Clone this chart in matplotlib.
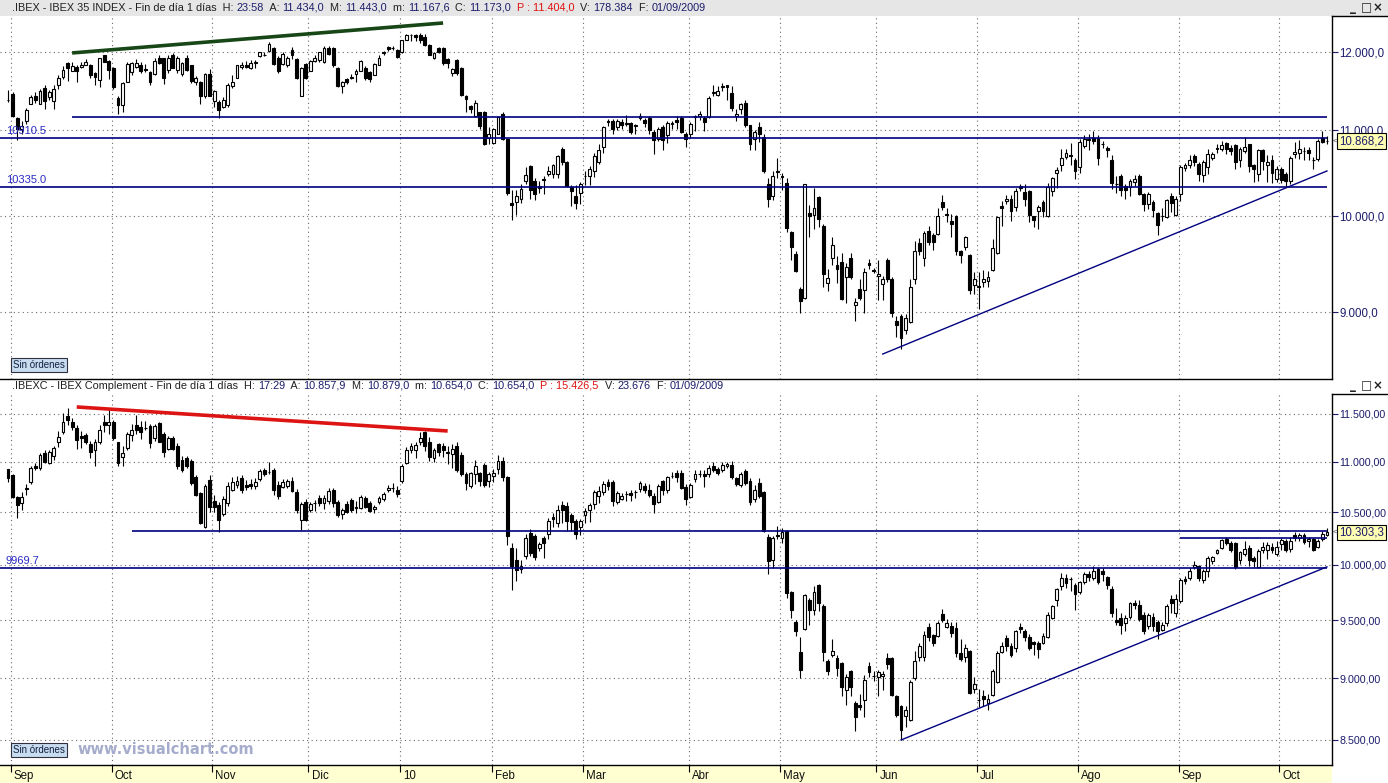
import numpy as np
import matplotlib.pyplot as plt
from matplotlib.patches import Rectangle
from matplotlib.lines import Line2D
from matplotlib.font_manager import FontProperties
from matplotlib.ticker import FixedLocator, FixedFormatter, NullLocator
import matplotlib.transforms as mtrans

plt.rcParams['font.family'] = ['Liberation Sans', 'DejaVu Sans']

# IBEX 35, velas diarias (Sep 2008 - Oct 2009)
ibex_open = [
    11380, 11450, 11150, 11010, 11120, 11330, 11430, 11330, 11530, 11410,
    11360, 11560, 11670, 11850, 11750, 11800, 11800, 11830, 11820, 11720,
    11630, 11950, 11880, 11790, 11400, 11310, 11610, 11730, 11800, 11830,
    11770, 11730, 11710, 11920, 11910, 11760, 11960, 11760, 11710, 11920,
    11820, 11610, 11600, 11420, 11710, 11360, 11350, 11290, 11310, 11550,
    11660, 11800, 11830, 11790, 11850, 11940, 11960, 12010, 12050, 11920,
    11840, 11830, 12020, 11900, 11430, 11840, 11750, 11880, 11890, 11860,
    12050, 12050, 11790, 11550, 11640, 11660, 11710, 11750, 11790, 11730,
    11700, 11830, 11980, 12060, 12050, 12020, 11990, 12160, 12220, 12220,
    12220, 12190, 12090, 11920, 12050, 12050, 11900, 11720, 11890, 11790,
    11420, 11300, 11170, 11220, 11220, 10910, 10850, 10960, 11200, 10900,
    10150, 10160, 10200, 10400, 10570, 10400, 10340, 10420, 10480, 10480,
    10480, 10770, 10620, 10330, 10230, 10260, 10460, 10460, 10520, 10620,
    10800, 11120, 11120, 11040, 11100, 11090, 11090, 11050, 11150, 11130,
    11150, 10980, 10890, 11040, 10940, 11090, 11130, 11150, 10950, 10950,
    11160, 11170, 11150, 11160, 11460, 11440, 11540, 11560, 11460, 11170,
    11260, 11340, 11060, 10890, 11040, 10920, 10370, 10230, 10510, 10460,
    10380, 9830, 9590, 9230, 9140, 10040, 10020, 10220, 9900, 9290,
    9550, 9480, 9510, 9350, 9550, 9070, 9230, 9220, 9500, 9420,
    9360, 9280, 9530, 9330, 8910, 8960, 8820, 8900, 9330, 9710,
    9550, 9840, 9800, 9810, 10160, 10030, 9950, 10000, 9630, 9670,
    9580, 9270, 9260, 9300, 9310, 9420, 9600, 10120, 10170, 10190,
    10100, 10340, 10270, 10290, 10000, 10060, 10160, 10010, 10280, 10490,
    10580, 10680, 10700, 10650, 10560, 10810, 10900, 10910, 10910, 10830,
    10790, 10650, 10370, 10460, 10340, 10330, 10390, 10460, 10250, 10140,
    10160, 10040, 10010, 9990, 10230, 10020, 10250, 10550, 10590, 10690,
    10600, 10470, 10560, 10670, 10790, 10770, 10850, 10790, 10820, 10650,
    10750, 10830, 10580, 10480, 10760, 10590, 10640, 10420, 10540, 10480,
    10400, 10710, 10730, 10750, 10760, 10650, 10660, 10910, 10870]
ibex_high = [
    11500, 11470, 11160, 11110, 11270, 11440, 11470, 11510, 11560, 11500,
    11560, 11690, 11810, 11860, 11860, 11820, 11870, 11900, 11840, 11730,
    11920, 11960, 11890, 11800, 11430, 11600, 11860, 11870, 11900, 11860,
    11840, 11740, 11910, 11960, 11920, 11950, 11980, 11940, 11870, 11960,
    11830, 11680, 11620, 11720, 11770, 11500, 11370, 11410, 11590, 11700,
    11830, 11870, 11880, 11890, 11890, 12000, 11990, 12130, 12060, 11940,
    11990, 11940, 12060, 11910, 11800, 11850, 11890, 11950, 12000, 12070,
    12080, 12060, 11800, 11620, 11660, 11710, 11770, 11890, 11810, 11740,
    11850, 11950, 12010, 12080, 12070, 12030, 12160, 12240, 12240, 12240,
    12250, 12240, 12100, 12000, 12060, 12060, 11910, 11790, 11900, 11800,
    11440, 11310, 11370, 11230, 11240, 11040, 11030, 11180, 11230, 10910,
    10300, 10300, 10360, 10560, 10580, 10440, 10400, 10460, 10570, 10600,
    10700, 10800, 10630, 10350, 10350, 10390, 10520, 10570, 10730, 10830,
    11050, 11140, 11140, 11140, 11140, 11190, 11100, 11080, 11210, 11150,
    11170, 11000, 11040, 11060, 11110, 11110, 11170, 11170, 10980, 11100,
    11190, 11240, 11170, 11420, 11570, 11550, 11590, 11570, 11550, 11260,
    11340, 11370, 11070, 11000, 11100, 10950, 10430, 10520, 10670, 10490,
    10440, 9840, 9630, 9250, 10370, 10130, 10320, 10230, 9920, 9440,
    9770, 9570, 9600, 9500, 9600, 9140, 9330, 9450, 9540, 9450,
    9530, 9360, 9550, 9350, 8960, 8980, 8980, 9330, 9730, 9760,
    9840, 9900, 9820, 10090, 10240, 10090, 10030, 10020, 9640, 9790,
    9590, 9400, 9400, 9420, 9410, 9750, 10000, 10170, 10240, 10240,
    10320, 10370, 10360, 10300, 10010, 10130, 10180, 10380, 10450, 10560,
    10780, 10770, 10850, 10670, 10900, 10940, 10960, 10990, 10940, 10870,
    10810, 10700, 10460, 10480, 10360, 10420, 10470, 10480, 10260, 10270,
    10180, 10050, 10090, 10200, 10260, 10230, 10580, 10610, 10700, 10710,
    10620, 10650, 10780, 10740, 10830, 10870, 10860, 10820, 10840, 10800,
    10920, 10840, 10600, 10770, 10780, 10700, 10700, 10570, 10560, 10500,
    10690, 10860, 10880, 10800, 10800, 10680, 10900, 10990, 10930]
ibex_low = [
    11350, 11160, 10880, 10960, 11080, 11320, 11340, 11320, 11260, 11380,
    11260, 11510, 11640, 11620, 11740, 11600, 11790, 11820, 11650, 11560,
    11540, 11860, 11640, 11520, 11200, 11230, 11600, 11700, 11790, 11720,
    11730, 11570, 11700, 11840, 11580, 11720, 11780, 11720, 11680, 11750,
    11590, 11560, 11330, 11400, 11420, 11290, 11150, 11270, 11290, 11530,
    11650, 11770, 11780, 11770, 11780, 11930, 11940, 12000, 11830, 11720,
    11830, 11800, 11900, 11640, 11420, 11640, 11740, 11860, 11870, 11850,
    11960, 11800, 11540, 11460, 11580, 11640, 11600, 11740, 11630, 11600,
    11690, 11820, 11960, 12010, 12020, 11920, 11980, 12150, 12140, 12140,
    12120, 12080, 11950, 11900, 11980, 11830, 11790, 11680, 11700, 11430,
    11220, 11210, 11160, 11010, 10820, 10840, 10840, 10950, 10880, 10240,
    9960, 10020, 10150, 10370, 10190, 10180, 10260, 10250, 10460, 10430,
    10430, 10580, 10330, 10120, 10080, 10140, 10350, 10350, 10450, 10600,
    10730, 11050, 10950, 11000, 11010, 11050, 10960, 10950, 11130, 11040,
    10950, 10710, 10870, 10760, 10850, 11020, 11010, 10970, 10800, 10910,
    10990, 11130, 10990, 11150, 11420, 11420, 11490, 11380, 11240, 11110,
    11200, 11040, 10760, 10760, 10860, 10490, 10100, 10180, 10430, 10300,
    9830, 9530, 9400, 8990, 9130, 9780, 9860, 9880, 9250, 9210,
    9480, 9290, 9120, 9090, 9330, 8910, 9120, 8990, 9440, 9390,
    9120, 9120, 9300, 8950, 8750, 8640, 8780, 8890, 9280, 9580,
    9470, 9690, 9640, 9800, 10070, 9940, 9780, 9580, 9500, 9640,
    9180, 9180, 9030, 9250, 9250, 9410, 9590, 9900, 10140, 9950,
    10060, 10290, 10120, 9940, 9880, 9860, 9990, 9990, 10230, 10320,
    10510, 10660, 10580, 10420, 10490, 10790, 10760, 10830, 10580, 10790,
    10680, 10310, 10260, 10230, 10190, 10230, 10340, 10240, 10060, 10080,
    9990, 9800, 9950, 9980, 10050, 10010, 10170, 10520, 10550, 10570,
    10400, 10390, 10480, 10640, 10730, 10750, 10720, 10700, 10540, 10560,
    10730, 10500, 10390, 10400, 10530, 10390, 10380, 10390, 10380, 10330,
    10360, 10670, 10660, 10650, 10640, 10540, 10630, 10850, 10830]
ibex_close = [
    11370, 11170, 11010, 11050, 11250, 11410, 11370, 11490, 11360, 11470,
    11510, 11650, 11760, 11780, 11810, 11750, 11830, 11870, 11700, 11670,
    11910, 11870, 11760, 11540, 11310, 11590, 11840, 11850, 11850, 11750,
    11760, 11600, 11880, 11850, 11660, 11920, 11790, 11920, 11850, 11760,
    11620, 11650, 11430, 11710, 11430, 11490, 11250, 11380, 11570, 11610,
    11820, 11830, 11800, 11850, 11870, 11990, 11960, 12100, 11840, 11740,
    11970, 11920, 11960, 11650, 11790, 11650, 11880, 11920, 11990, 12050,
    11970, 11820, 11550, 11610, 11610, 11670, 11750, 11880, 11650, 11640,
    11840, 11920, 11990, 12030, 12050, 11930, 12150, 12220, 12220, 12200,
    12150, 12090, 11960, 11980, 11990, 11850, 11850, 11770, 11720, 11440,
    11390, 11260, 11340, 11050, 10830, 10960, 11010, 11160, 10890, 10260,
    10130, 10230, 10310, 10470, 10300, 10250, 10320, 10410, 10520, 10590,
    10690, 10620, 10340, 10290, 10150, 10360, 10460, 10540, 10690, 10760,
    11040, 11100, 11020, 11120, 11070, 11080, 10980, 11060, 11180, 11090,
    11000, 10880, 11010, 10880, 11090, 11080, 11100, 10980, 10890, 11080,
    11170, 11200, 11100, 11400, 11470, 11490, 11550, 11540, 11280, 11200,
    11320, 11070, 10830, 10980, 10950, 10510, 10190, 10460, 10500, 10450,
    9870, 9670, 9410, 9110, 10360, 10010, 10090, 9970, 9380, 9340,
    9690, 9440, 9130, 9460, 9350, 9100, 9140, 9400, 9480, 9410,
    9380, 9330, 9330, 8990, 8870, 8740, 8940, 9250, 9620, 9630,
    9820, 9720, 9720, 10000, 10110, 10020, 9920, 9630, 9580, 9770,
    9220, 9330, 9250, 9330, 9350, 9660, 9990, 10090, 10190, 10060,
    10280, 10320, 10200, 10020, 9960, 10100, 10060, 10330, 10430, 10530,
    10670, 10730, 10690, 10510, 10860, 10900, 10880, 10870, 10670, 10830,
    10760, 10380, 10370, 10300, 10300, 10400, 10420, 10250, 10140, 10250,
    10070, 9910, 10000, 10180, 10150, 10200, 10560, 10580, 10640, 10620,
    10480, 10620, 10720, 10720, 10780, 10820, 10780, 10750, 10620, 10780,
    10800, 10570, 10540, 10760, 10630, 10620, 10490, 10540, 10410, 10400,
    10670, 10740, 10770, 10750, 10730, 10640, 10870, 10860, 10868.2]

# IBEX Complement
ibexc_open = [
    10930, 10870, 10650, 10590, 10740, 10800, 10960, 10940, 11090, 10990,
    11060, 11200, 11310, 11480, 11410, 11350, 11270, 11280, 11180, 11120,
    11200, 11420, 11380, 11420, 11200, 11050, 11140, 11280, 11380, 11360,
    11350, 11370, 11250, 11400, 11290, 11130, 11250, 11160, 11020, 11040,
    11010, 10850, 10690, 10360, 10820, 10610, 10570, 10480, 10590, 10720,
    10770, 10840, 10770, 10780, 10760, 10830, 10920, 10900, 10920, 10770,
    10750, 10760, 10810, 10700, 10420, 10600, 10520, 10590, 10640, 10590,
    10610, 10720, 10600, 10480, 10580, 10620, 10550, 10540, 10640, 10590,
    10530, 10600, 10630, 10720, 10740, 10720, 10810, 10990, 11120, 11120,
    11200, 11310, 11210, 11040, 11180, 11160, 11100, 11080, 11160, 11070,
    10880, 10760, 10880, 10890, 10970, 10810, 10860, 10930, 11010, 10850,
    10160, 10040, 9960, 10080, 10300, 10270, 10160, 10250, 10290, 10450,
    10390, 10570, 10560, 10470, 10410, 10360, 10470, 10520, 10580, 10660,
    10700, 10800, 10800, 10600, 10630, 10680, 10690, 10700, 10730, 10760,
    10720, 10660, 10600, 10810, 10720, 10860, 10890, 10890, 10750, 10650,
    10830, 10880, 10880, 10880, 10960, 10930, 10920, 10960, 10970, 10840,
    10770, 10910, 10810, 10630, 10790, 10700, 10260, 10040, 10280, 10250,
    10320, 9750, 9480, 9220, 9420, 9680, 9590, 9810, 9620, 9150,
    9200, 9170, 9130, 8900, 9060, 8800, 8780, 8820, 9100, 9020,
    9010, 9020, 9170, 9170, 8850, 8770, 8690, 8660, 9000, 9180,
    9180, 9440, 9370, 9360, 9550, 9440, 9450, 9430, 9210, 9180,
    9230, 8910, 8820, 8850, 8800, 8860, 8970, 9220, 9340, 9270,
    9260, 9440, 9400, 9350, 9310, 9300, 9300, 9350, 9520, 9680,
    9800, 9880, 9870, 9810, 9750, 9840, 9910, 9880, 9960, 9940,
    9890, 9780, 9500, 9520, 9470, 9530, 9650, 9630, 9540, 9450,
    9530, 9480, 9410, 9470, 9690, 9560, 9670, 9870, 9880, 9980,
    9990, 9860, 9940, 10030, 10110, 10160, 10240, 10200, 10200, 10040,
    10100, 10160, 10060, 9980, 10140, 10140, 10170, 10100, 10190, 10220,
    10150, 10280, 10250, 10280, 10220, 10240, 10170, 10240, 10280]
ibexc_high = [
    10930, 10880, 10660, 10700, 10780, 10960, 10990, 11090, 11120, 11120,
    11160, 11320, 11510, 11560, 11460, 11380, 11320, 11300, 11220, 11240,
    11380, 11490, 11560, 11440, 11210, 11160, 11310, 11390, 11490, 11430,
    11430, 11390, 11390, 11420, 11310, 11270, 11270, 11190, 11060, 11060,
    11030, 10870, 10700, 10780, 10870, 10670, 10600, 10660, 10800, 10850,
    10860, 10870, 10820, 10830, 10840, 10930, 10940, 11000, 10940, 10810,
    10830, 10830, 10850, 10730, 10600, 10630, 10600, 10620, 10670, 10670,
    10740, 10740, 10620, 10540, 10610, 10640, 10610, 10670, 10660, 10610,
    10570, 10660, 10700, 10770, 10790, 10760, 10980, 11150, 11190, 11210,
    11310, 11320, 11260, 11140, 11190, 11190, 11160, 11180, 11200, 11100,
    10900, 10900, 11020, 10900, 10990, 10900, 10930, 11070, 11050, 10860,
    10200, 10160, 10040, 10290, 10340, 10290, 10210, 10270, 10440, 10490,
    10570, 10610, 10600, 10490, 10430, 10430, 10540, 10590, 10720, 10760,
    10810, 10830, 10820, 10710, 10690, 10710, 10720, 10720, 10810, 10790,
    10780, 10690, 10780, 10820, 10860, 10900, 10920, 10920, 10780, 10790,
    10920, 10920, 10920, 10970, 11000, 10950, 11000, 11000, 11010, 10850,
    10900, 10930, 10840, 10770, 10840, 10710, 10290, 10270, 10370, 10350,
    10330, 9760, 9500, 9350, 9730, 9700, 9800, 9820, 9640, 9160,
    9330, 9200, 9140, 9040, 9070, 8810, 8870, 9030, 9140, 9060,
    9070, 9060, 9210, 9180, 8860, 8780, 8770, 8990, 9230, 9300,
    9400, 9470, 9380, 9490, 9600, 9510, 9480, 9480, 9330, 9290,
    9240, 9010, 8910, 8900, 8870, 9080, 9230, 9310, 9370, 9300,
    9410, 9470, 9420, 9380, 9320, 9320, 9390, 9570, 9630, 9790,
    9920, 9910, 9890, 9830, 9850, 9930, 9940, 9990, 9980, 9970,
    9900, 9800, 9610, 9560, 9540, 9660, 9680, 9680, 9570, 9560,
    9560, 9500, 9480, 9640, 9720, 9730, 9880, 9900, 9970, 10030,
    10000, 9960, 10080, 10080, 10150, 10240, 10260, 10220, 10210, 10130,
    10220, 10180, 10080, 10150, 10210, 10210, 10200, 10220, 10250, 10240,
    10260, 10310, 10300, 10300, 10260, 10250, 10240, 10320, 10350]
ibexc_low = [
    10800, 10640, 10440, 10520, 10670, 10780, 10920, 10920, 10990, 10980,
    11020, 11150, 11290, 11380, 11330, 11130, 11140, 11180, 11040, 10960,
    11180, 11310, 11290, 11230, 10960, 10960, 11120, 11220, 11290, 11240,
    11330, 11140, 11220, 11200, 11050, 11120, 11120, 10930, 10900, 10940,
    10770, 10660, 10380, 10350, 10500, 10500, 10310, 10460, 10560, 10710,
    10740, 10690, 10720, 10730, 10730, 10810, 10860, 10880, 10670, 10630,
    10740, 10740, 10700, 10490, 10330, 10410, 10500, 10510, 10560, 10530,
    10580, 10550, 10450, 10430, 10490, 10500, 10490, 10530, 10540, 10500,
    10490, 10580, 10610, 10700, 10700, 10650, 10790, 10980, 11090, 11040,
    11170, 11110, 11010, 11000, 11060, 11050, 10980, 10940, 10900, 10860,
    10720, 10740, 10780, 10760, 10750, 10750, 10800, 10880, 10810, 10180,
    9770, 9850, 9920, 10050, 10080, 10040, 10130, 10060, 10240, 10360,
    10360, 10390, 10320, 10320, 10240, 10280, 10390, 10400, 10530, 10590,
    10670, 10720, 10560, 10580, 10620, 10610, 10610, 10640, 10700, 10690,
    10650, 10490, 10590, 10670, 10690, 10840, 10800, 10730, 10570, 10640,
    10800, 10850, 10750, 10850, 10900, 10870, 10900, 10940, 10830, 10760,
    10750, 10770, 10570, 10600, 10640, 10310, 9910, 9970, 10240, 10200,
    9700, 9520, 9360, 9000, 9410, 9460, 9540, 9580, 9150, 9030,
    9180, 9020, 8850, 8780, 8850, 8570, 8740, 8680, 9010, 8980,
    8850, 8900, 9080, 8850, 8680, 8500, 8600, 8650, 8990, 9150,
    9150, 9320, 9270, 9350, 9480, 9430, 9350, 9180, 9150, 9140,
    8870, 8880, 8760, 8770, 8740, 8850, 8960, 9210, 9230, 9180,
    9220, 9390, 9320, 9240, 9200, 9170, 9290, 9340, 9510, 9620,
    9770, 9790, 9760, 9590, 9730, 9820, 9850, 9860, 9820, 9850,
    9780, 9530, 9460, 9380, 9400, 9510, 9600, 9490, 9380, 9420,
    9400, 9330, 9400, 9450, 9560, 9530, 9650, 9820, 9860, 9960,
    9850, 9830, 9890, 10010, 10100, 10150, 10180, 10120, 9960, 10010,
    10080, 9990, 9980, 9970, 10110, 10050, 10110, 10080, 10140, 10120,
    10120, 10220, 10220, 10190, 10170, 10130, 10160, 10220, 10270]
ibexc_close = [
    10840, 10650, 10570, 10650, 10730, 10940, 10940, 11070, 11000, 11100,
    11140, 11260, 11410, 11440, 11360, 11230, 11250, 11200, 11100, 11200,
    11330, 11380, 11420, 11250, 10990, 11090, 11290, 11330, 11330, 11310,
    11350, 11190, 11370, 11210, 11100, 11250, 11130, 10960, 10920, 10960,
    10790, 10670, 10390, 10760, 10550, 10550, 10420, 10630, 10760, 10800,
    10810, 10720, 10750, 10760, 10800, 10910, 10880, 10900, 10720, 10660,
    10800, 10810, 10710, 10520, 10580, 10420, 10580, 10590, 10590, 10640,
    10710, 10590, 10470, 10520, 10500, 10520, 10540, 10650, 10550, 10510,
    10550, 10640, 10680, 10740, 10740, 10680, 10960, 11120, 11160, 11170,
    11250, 11160, 11050, 11120, 11100, 11120, 11090, 11130, 10920, 10880,
    10790, 10890, 10960, 10810, 10770, 10880, 10890, 11010, 10850, 10270,
    9990, 9950, 9990, 10250, 10110, 10070, 10190, 10200, 10410, 10430,
    10520, 10520, 10410, 10400, 10290, 10410, 10510, 10570, 10700, 10710,
    10780, 10760, 10610, 10690, 10660, 10680, 10670, 10700, 10790, 10720,
    10670, 10580, 10760, 10720, 10850, 10860, 10850, 10740, 10630, 10770,
    10880, 10880, 10860, 10940, 10920, 10890, 10970, 10980, 10850, 10780,
    10880, 10790, 10600, 10720, 10660, 10320, 10030, 10250, 10270, 10310,
    9740, 9590, 9400, 9070, 9720, 9590, 9750, 9650, 9220, 9060,
    9230, 9090, 8930, 9010, 8930, 8680, 8760, 8990, 9050, 9020,
    9050, 9040, 9120, 8860, 8700, 8580, 8740, 8970, 9150, 9270,
    9370, 9350, 9300, 9470, 9500, 9470, 9390, 9210, 9160, 9260,
    8880, 8950, 8820, 8830, 8830, 9060, 9210, 9270, 9270, 9200,
    9400, 9420, 9350, 9260, 9290, 9250, 9360, 9540, 9620, 9780,
    9880, 9830, 9870, 9730, 9840, 9910, 9890, 9940, 9840, 9910,
    9810, 9560, 9480, 9460, 9520, 9650, 9630, 9510, 9400, 9540,
    9450, 9400, 9460, 9620, 9650, 9690, 9860, 9850, 9940, 10000,
    9880, 9940, 10060, 10070, 10140, 10230, 10200, 10140, 9980, 10120,
    10150, 10040, 10030, 10130, 10170, 10180, 10140, 10170, 10230, 10140,
    10220, 10250, 10280, 10210, 10240, 10140, 10220, 10290, 10303.3]

month_labels = ['Sep', 'Oct', 'Nov', 'Dic', '10', 'Feb', 'Mar', 'Abr',
                'May', 'Jun', 'Jul', 'Ago', 'Sep', 'Oct']
month_first_bar = [1, 23, 45, 66, 86, 106, 126, 149, 169, 190, 212, 234, 256, 278]

ibex_ticks = [9000, 10000, 11000, 12000]
ibexc_ticks = [8500, 9000, 9500, 10000, 10500, 11000, 11500]

# lineas dibujadas: (precio, primera vela)
ibex_levels = [(11163, 14), (10910.5, None), (10335.0, None)]
ibex_level_labels = {10910.5: '10910.5', 10335.0: '10335.0'}
ibex_green = ([14, 95], [11983, 12387])
ibex_support = ([191, 288], [8588, 10516])

ibexc_levels = [(10318, 27), (9969.7, None), (10251, 256)]
ibexc_level_labels = {9969.7: '9969.7'}
ibexc_red = ([15, 96], [11575, 11320])
ibexc_support = ([195, 288], [8500, 9980])

W, H = 1388, 783
NAVY = '#1c1c6c'
LINE = '#000080'
XMIN, XMAX = -1.75, 289.1

fig = plt.figure(figsize=(W / 100, H / 100), dpi=100)


def fy(py):
    return 1 - py / H


def es_num(v, dec):
    s = f"{v:,.{dec}f}"
    return s.replace(',', '#').replace('.', ',').replace('#', '.')


def candles(ax, o, h, l, c):
    o, h, l, c = map(np.asarray, (o, h, l, c))
    x = np.arange(len(o))
    ax.vlines(x, l, h, color='black', lw=0.8, zorder=2)
    lo = np.minimum(o, c)
    hi = np.maximum(o, c)
    up = c >= o
    ax.bar(x[up], (hi - lo)[up], bottom=lo[up], width=0.62, color='white',
           edgecolor='black', lw=0.8, zorder=3)
    ax.bar(x[~up], (hi - lo)[~up], bottom=lo[~up], width=0.62, color='black',
           edgecolor='black', lw=0.8, zorder=3)


def setup(ax, ylim, ticks, dec, lsize):
    ax.set_yscale('log')
    ax.set_xlim(XMIN, XMAX)
    ax.set_ylim(*ylim)
    ax.yaxis.tick_right()
    ax.yaxis.set_major_locator(FixedLocator(ticks))
    ax.yaxis.set_major_formatter(FixedFormatter([es_num(t, dec) for t in ticks]))
    ax.yaxis.set_minor_locator(NullLocator())
    ax.tick_params(axis='y', direction='out', length=4, width=0.8, colors=NAVY,
                   labelsize=lsize, pad=1.5)
    ax.set_xticks([m - 0.4 for m in month_first_bar])
    ax.tick_params(axis='x', labelbottom=False, length=0)
    ax.grid(True, ls=(0, (1, 3)), color='#6a6a6a', lw=0.8, zorder=0)
    ax.set_axisbelow(True)
    for side in ('top', 'left'):
        ax.spines[side].set_visible(False)
    for side in ('right', 'bottom'):
        ax.spines[side].set_linewidth(1.0)


def levels(ax, lv, labels):
    for price, start in lv:
        x0 = XMIN if start is None else start
        ax.hlines(price, x0, 288, color=LINE, lw=1.2, zorder=4)
        if price in labels:
            ax.annotate(labels[price], xy=(0, price), xycoords=('axes fraction', 'data'),
                        xytext=(6, 2), textcoords='offset pixels', va='bottom',
                        fontsize=8, color='#2a2ac4', zorder=5)


def price_tag(ax, value):
    ax.annotate(es_num(value, 1), xy=(1, value), xycoords=('axes fraction', 'data'),
                xytext=(7, 0), textcoords='offset pixels', va='center', ha='left',
                fontsize=8.3, color=NAVY, annotation_clip=False,
                bbox=dict(boxstyle='square,pad=0.15', fc='#ffffb4', ec='black', lw=0.8))
    ax.annotate('<', xy=(1, value), xycoords=('axes fraction', 'data'),
                xytext=(1, 0), textcoords='offset pixels', va='center', ha='left',
                fontsize=6, color='#404040', annotation_clip=False)


# fondo de cabecera y banda de fechas
fig.add_artist(Rectangle((0, fy(16)), 1, 16 / H, transform=fig.transFigure,
                         fc='#e6e6e6', ec='none', zorder=-2))
fig.add_artist(Rectangle((0, 0), 1332 / W, 18 / H, transform=fig.transFigure,
                         fc='#ffffd2', ec='none', zorder=-2))

ax1 = fig.add_axes([0, fy(379), 1332 / W, (379 - 16) / H])
ax2 = fig.add_axes([0, fy(765), 1332 / W, (765 - 394) / H])

setup(ax1, (8354, 12483), ibex_ticks, 1, 8.3)
setup(ax2, (8305, 11715), ibexc_ticks, 2, 7.7)

candles(ax1, ibex_open, ibex_high, ibex_low, ibex_close)
candles(ax2, ibexc_open, ibexc_high, ibexc_low, ibexc_close)

levels(ax1, ibex_levels, ibex_level_labels)
levels(ax2, ibexc_levels, ibexc_level_labels)

ax1.plot(*ibex_green, color='#174617', lw=2.6, zorder=5, solid_capstyle='butt')
ax1.plot(*ibex_support, color=LINE, lw=1.0, zorder=5)
ax2.plot(*ibexc_red, color='#dd1414', lw=2.6, zorder=5, solid_capstyle='butt')
ax2.plot(*ibexc_support, color=LINE, lw=1.0, zorder=5)

price_tag(ax1, ibex_close[-1])
price_tag(ax2, ibexc_close[-1])

# eje de fechas
ax2.tick_params(axis='x', length=5, width=0.8, color='black', direction='out')
trans = mtrans.blended_transform_factory(ax2.transData, fig.transFigure)
for m, lab in zip(month_first_bar, month_labels):
    ax2.text(m + 0.3, fy(776), lab, transform=trans, fontsize=8.3, va='center',
             ha='left', color='#101010', clip_on=False)

# cajas del eje de precios
for y in (16, 394):
    fig.add_artist(Line2D([1332 / W, 1], [fy(y), fy(y)], color='black', lw=1.0))

# cabeceras
renderer = fig.canvas.get_renderer()
hdr_font = FontProperties(family=['Liberation Sans', 'DejaVu Sans'], size=7.85)


def text_width(s):
    w1 = renderer.get_text_width_height_descent('|' + s + '|', hdr_font, ismath=False)[0]
    w0 = renderer.get_text_width_height_descent('||', hdr_font, ismath=False)[0]
    return w1 - w0


def header(y, parts):
    x = 12
    for s, col in parts:
        fig.text(x / W, fy(y), s, fontproperties=hdr_font, color=col, va='center')
        x += text_width(s)


BLK = '#202020'
RED = '#e01010'
header(8, [('.IBEX - IBEX 35 INDEX - Fin de día 1 días  H: ', BLK), ('23:58', NAVY),
           ('  A: ', BLK), ('11.434,0', NAVY), ('  M: ', BLK), ('11.443,0', NAVY),
           ('  m: ', BLK), ('11.167,6', NAVY), ('  C: ', BLK), ('11.173,0', NAVY),
           ('  P : 11.404,0', RED), ('  V: ', BLK), ('178.384', NAVY),
           ('  F: ', BLK), ('01/09/2009', NAVY)])
header(386, [('.IBEXC - IBEX Complement - Fin de día 1 días  H: ', BLK), ('17:29', NAVY),
             ('  A: ', BLK), ('10.857,9', NAVY), ('  M: ', BLK), ('10.879,0', NAVY),
             ('  m: ', BLK), ('10.654,0', NAVY), ('  C: ', BLK), ('10.654,0', NAVY),
             ('  P : 15.426,5', RED), ('  V: ', BLK), ('23.676', NAVY),
             ('  F: ', BLK), ('01/09/2009', NAVY)])

# botones de ventana
for y in (8, 386):
    for x, sym in ((1350, '_'), (1361, '□'), (1373, '×')):
        fig.text(x / W, fy(y), sym, fontsize=8.5, weight='bold', color='#202020',
                 va='center', family='DejaVu Sans')

# cajas "Sin órdenes" y marca de agua
for y in (365, 750):
    fig.text(13 / W, fy(y), 'Sin órdenes', fontsize=7, color='#102040', va='center',
             bbox=dict(boxstyle='square,pad=0.25', fc='#c8dcf0', ec='#303040', lw=0.8))
fig.text(77 / W, fy(749), 'www.visualchart.com', fontsize=10.5, weight='bold',
         color='#a6accb', va='center', family='DejaVu Sans')

fig.savefig('out.png', dpi=100)
